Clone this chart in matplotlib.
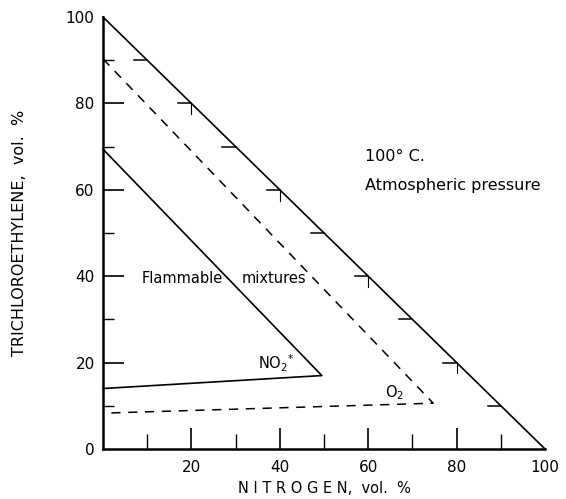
import matplotlib
matplotlib.use("Agg")
import matplotlib.pyplot as plt
import numpy as np

# Data
hyp_x = [0, 100]
hyp_y = [100, 0]
o2_x = [0, 74.7, 0]
o2_y = [90.3, 10.6, 8.3]
no2_x = [0, 49.5, 0]
no2_y = [69.4, 17.0, 14.0]
major_ticks = [20, 40, 60, 80, 100]
minor_ticks = [10, 30, 50, 70, 90]
y_tick_labels = ["0", "20", "40", "60", "80", "100"]
x_tick_labels = ["20", "40", "60", "80", "100"]

plt.rcParams['font.family'] = ['DejaVu Sans']
fig = plt.figure(figsize=(5.66, 4.99), dpi=100)
ax = fig.add_axes([0.182, 0.1002, 0.781, 0.8657])
ax.set_xlim(0, 100)
ax.set_ylim(0, 100)

for s in ['top', 'right']:
    ax.spines[s].set_visible(False)
ax.spines['left'].set_linewidth(1.8)
ax.spines['bottom'].set_linewidth(1.8)

ax.plot(hyp_x, hyp_y, color='black', lw=1.2, clip_on=False)
ax.plot(o2_x, o2_y, color='black', lw=1.1, ls=(0, (6, 5)), clip_on=False)
ax.plot(no2_x, no2_y, color='black', lw=1.2, clip_on=False)

# ticks on hypotenuse
for v in minor_ticks + major_ticks[:-1]:
    yy = v
    xx = 100 - v
    if 0 < xx < 100:
        ax.plot([xx - 3.0, xx], [yy, yy], color='black', lw=1.1)
for v in [20, 40, 60, 80]:
    ax.plot([v, v], [100 - v, 100 - v - 2.5], color='black', lw=0.8)

ax.set_yticks([0] + major_ticks)
ax.set_yticklabels(y_tick_labels)
ax.set_yticks(minor_ticks, minor=True)
ax.set_xticks(major_ticks)
ax.set_xticklabels(x_tick_labels)
ax.set_xticks(minor_ticks, minor=True)
ax.tick_params(axis='both', which='major', direction='in', length=15, width=1.2,
               labelsize=11, pad=6)
ax.tick_params(axis='y', which='minor', direction='in', length=8, width=1.0)
ax.tick_params(axis='x', which='minor', direction='in', length=11, width=1.0)
ax.tick_params(axis='x', which='major', pad=8)
ax.yaxis.get_major_ticks()[-1].tick1line.set_visible(False)
ax.yaxis.get_major_ticks()[0].tick1line.set_visible(False)
ax.xaxis.get_major_ticks()[-1].tick1line.set_visible(False)

ax.set_xlabel("N I T R O G E N,  vol.  %", fontsize=10.5, labelpad=4)
ax.set_ylabel("TRICHLOROETHYLENE,  vol.  %", fontsize=11.5, labelpad=28)

ax.text(8.8, 39.4, "Flammable", fontsize=10.5, va='center')
ax.text(31.4, 39.4, "mixtures", fontsize=10.5, va='center')
ax.text(35.0, 19.8, r"NO$_2$$^{*}$", fontsize=10.5, va='center')
ax.text(63.8, 13.0, r"O$_2$", fontsize=10.5, va='center')
ax.text(59.3, 67.6, "100° C.", fontsize=11.5, va='center')
ax.text(59.3, 60.9, "Atmospheric pressure", fontsize=11.5, va='center')

fig.savefig("out.png", dpi=100)
